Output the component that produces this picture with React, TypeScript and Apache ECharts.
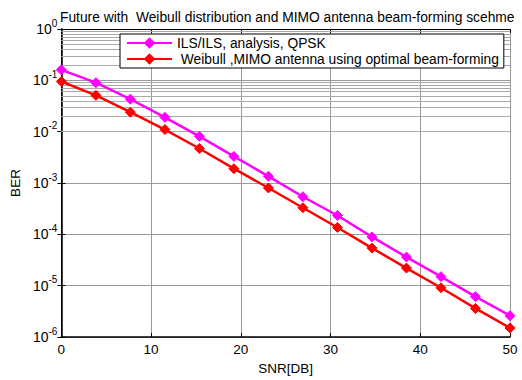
import React, { useEffect, useRef } from "react";
import * as echarts from "echarts";

const snr = [0, 3.85, 7.69, 11.54, 15.38, 19.23, 23.08, 26.92, 30.77, 34.62, 38.46, 42.31, 46.15, 50];
const berIls = [0.16, 0.09, 0.043, 0.019, 0.0081, 0.0033, 0.00135, 0.00054, 0.000233, 0.000089, 0.000036, 0.000015, 0.0000061, 0.0000026];
const berWeibull = [0.095, 0.051, 0.024, 0.011, 0.0047, 0.0019, 0.0008, 0.00033, 0.000136, 0.000054, 0.000022, 0.0000091, 0.0000036, 0.0000015];
const seriesNames = ["ILS/ILS, analysis, QPSK", " Weibull ,MIMO antenna using optimal beam-forming"];
const titleText = "Future with  Weibull distribution and MIMO antenna beam-forming scehme";
const decades = [-6, -5, -4, -3, -2, -1];
const mantissas = [2, 3, 4, 5, 6, 7, 8, 9];
const minorGrid: number[] = [];
decades.forEach((d) => mantissas.forEach((m) => minorGrid.push(m * Math.pow(10, d))));

export default function App() {
  const ref = useRef<HTMLDivElement>(null);
  useEffect(() => {
    if (!ref.current) return;
    const chart = echarts.init(ref.current, undefined, { renderer: "svg" });
    const font = "'Liberation Sans', Arial, sans-serif";
    chart.setOption({
      animation: false,
      backgroundColor: "#fff",
      textStyle: { fontFamily: font },
      title: {
        text: titleText,
        left: 55,
        top: 5,
        textStyle: { fontSize: 13.8, fontWeight: "normal", color: "#000", fontFamily: font },
      },
      legend: {
        left: 120,
        top: 34,
        z: 50,
        orient: "vertical",
        backgroundColor: "#fff",
        borderColor: "#000",
        borderWidth: 1,
        padding: [2, 5, 2, 6],
        itemGap: 2,
        itemWidth: 45,
        itemHeight: 11,
        textStyle: { fontSize: 13.8, color: "#000", fontFamily: font },
        data: seriesNames,
      },
      grid: { left: 61, right: 12, top: 29, bottom: 39, containLabel: false },
      xAxis: [
        {
          type: "value",
          min: 0,
          max: 50,
          interval: 10,
          name: "SNR[DB]",
          nameLocation: "middle",
          nameGap: 24,
          nameTextStyle: { fontSize: 13.5, color: "#000" },
          axisLine: { onZero: false, lineStyle: { color: "#000", width: 1.5 } },
          axisTick: { inside: true, length: 4, lineStyle: { color: "#000" } },
          axisLabel: { fontSize: 13.5, color: "#000", margin: 5 },
          splitLine: { show: true, lineStyle: { color: "#999999", width: 1 } },
        },
        {
          type: "value",
          position: "top",
          min: 0,
          max: 50,
          interval: 10,
          axisLine: { onZero: false, lineStyle: { color: "#000", width: 1 } },
          axisTick: { inside: true, length: 4, lineStyle: { color: "#000" } },
          axisLabel: { show: false },
          splitLine: { show: false },
        },
      ],
      yAxis: [
        {
          type: "log",
          logBase: 10,
          min: 1e-6,
          max: 1,
          interval: 1,
          name: "BER",
          nameLocation: "middle",
          nameGap: 38,
          nameRotate: 90,
          nameTextStyle: { fontSize: 13.5, color: "#000" },
          axisLine: { lineStyle: { color: "#000", width: 1.5 } },
          axisTick: { inside: true, length: 4, lineStyle: { color: "#000" } },
          axisLabel: {
            margin: 4,
            color: "#000",
            formatter: (v: number) => `{b|10}{s|${Math.round(Math.log10(v))}}`,
            rich: {
              b: { fontSize: 14, color: "#000", fontFamily: font },
              s: { fontSize: 10, color: "#000", fontFamily: font, padding: [0, 0, 12, 0] },
            },
          },
          splitLine: { show: true, lineStyle: { color: "#999999", width: 1 } },
        },
        {
          type: "log",
          logBase: 10,
          min: 1e-6,
          max: 1,
          interval: 1,
          position: "right",
          axisLine: { lineStyle: { color: "#000", width: 1 } },
          axisTick: { inside: true, length: 4, lineStyle: { color: "#000" } },
          axisLabel: { show: false },
          splitLine: { show: false },
        },
      ],
      series: [
        {
          name: seriesNames[0],
          type: "line",
          data: snr.map((x, i) => [x, berIls[i]]),
          symbol: "diamond",
          symbolSize: 10,
          color: "#ff00ff",
          lineStyle: { color: "#ff00ff", width: 2.5 },
          itemStyle: { color: "#ff00ff", borderColor: "#ff00ff", borderWidth: 1 },
          z: 5,
          markLine: {
            silent: true,
            z: 1,
            symbol: ["none", "none"],
            label: { show: false },
            emphasis: { disabled: true },
            lineStyle: { color: "#a9a9a9", width: 1, type: "solid" },
            data: minorGrid.map((v) => ({ yAxis: v })),
          },
        },
        {
          name: seriesNames[1],
          type: "line",
          data: snr.map((x, i) => [x, berWeibull[i]]),
          symbol: "diamond",
          symbolSize: 10,
          color: "#ff0000",
          lineStyle: { color: "#ff0000", width: 2.5 },
          itemStyle: { color: "#ff0000", borderColor: "#ff0000", borderWidth: 1 },
          z: 6,
        },
      ],
    });
    return () => chart.dispose();
  }, []);
  return <div ref={ref} style={{ width: 522, height: 380, position: "absolute", left: 0, top: 0 }} />;
}
